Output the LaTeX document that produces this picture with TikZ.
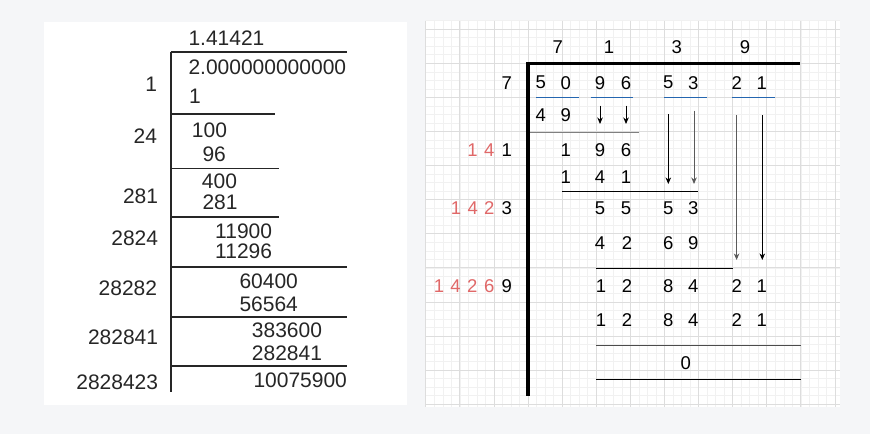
\documentclass[tikz,border=0pt]{standalone}
\usepackage{fontspec}
\setmainfont{Liberation Sans}
\usetikzlibrary{arrows.meta}
\definecolor{bg}{HTML}{F5F6F8}
\definecolor{ink}{HTML}{262626}
\definecolor{redd}{HTML}{E06868}
\definecolor{blueline}{HTML}{2466B0}
\definecolor{gminor}{HTML}{F1F1F1}
\definecolor{gmajor}{HTML}{DDDDDD}
\definecolor{grayline}{HTML}{808080}
\tikzset{
  ltxt/.style={font=\fontsize{21}{25}\selectfont, text=ink, inner sep=0pt},
  rtxt/.style={font=\fontsize{18.5}{22}\selectfont, text=black, inner sep=0pt},
  rred/.style={rtxt, text=redd},
  lline/.style={draw=ink, line width=1.6pt},
  rline/.style={draw=black, line width=1pt},
  gline/.style={draw=grayline, line width=1.2pt},
  uline/.style={draw=blueline, line width=1.6pt},
  darrow/.style={draw=black, line width=1pt, -{Stealth[length=6.5pt,width=5.5pt,inset=2pt]}},
  garrow/.style={draw=grayline!70!black, line width=1pt, -{Stealth[length=6.5pt,width=5.5pt,inset=2pt]}},
}
\begin{document}
\begin{tikzpicture}[x=1pt,y=-1pt]
\useasboundingbox (0,0) rectangle (870,434);
\fill[bg] (0,0) rectangle (870,434);
% left panel
\fill[white] (44.3,22.3) rectangle (406.7,405);
% right panel with grid
\fill[white] (425.7,20.7) rectangle (840,406.7);
\foreach \i in {0,...,48} {\draw[gminor, line width=0.5pt] ({425.7+8.525*\i},20.7) -- ({425.7+8.525*\i},406.7);}
\foreach \j in {0,...,45} {\draw[gminor, line width=0.5pt] (425.7,{20.6+8.525*\j}) -- (840,{20.6+8.525*\j});}
\foreach \i in {0,...,12} {\draw[gmajor, line width=0.7pt] ({425.7+34.1*\i},20.7) -- ({425.7+34.1*\i},406.7);}
\foreach \j in {0,...,11} {\draw[gmajor, line width=0.7pt] (425.7,{29.1+34.1*\j}) -- (840,{29.1+34.1*\j});}

% ---------- left panel ----------
\coordinate (vt) at (170.7,51.7);
\coordinate (vb) at (170.7,391.7);
\draw[lline] (vt) -- (vb);
\coordinate (h0e) at (347.3,51.7);
\draw[lline] (vt) -- (h0e);
\coordinate (h1s) at (170.7,113.7); \coordinate (h1e) at (275,113.7);
\coordinate (h2s) at (170.7,168.3); \coordinate (h2e) at (279,168.3);
\coordinate (h3s) at (170.7,216.7); \coordinate (h3e) at (279.3,216.7);
\coordinate (h4s) at (170.7,266.7); \coordinate (h4e) at (346.7,266.7);
\coordinate (h5s) at (170.7,316.7); \coordinate (h5e) at (346.7,316.7);
\coordinate (h6s) at (170.7,365.7); \coordinate (h6e) at (346.7,365.7);
\foreach \k in {1,...,6} {\draw[lline] (h\k s) -- (h\k e);}

\node[ltxt,anchor=west] (q)  at (188.3,38.3) {1.41421};
\node[ltxt,anchor=west] (n0) at (188.3,67.3) {2.000000000000};
\node[ltxt,anchor=east] (d1) at (157.3,84) {1};
\node[ltxt,anchor=west] (s1) at (189,96.7) {1};
\node[ltxt,anchor=east] (d2) at (157.3,135.7) {24};
\node[ltxt,anchor=west] (r2) at (191.7,130) {100};
\node[ltxt,anchor=west] (s2) at (202.3,154.3) {96};
\node[ltxt,anchor=east] (d3) at (158.3,196) {281};
\node[ltxt,anchor=west] (r3) at (201.7,181.7) {400};
\node[ltxt,anchor=west] (s3) at (202.3,202.3) {281};
\node[ltxt,anchor=east] (d4) at (158.3,238.3) {2824};
\node[ltxt,anchor=west] (r4) at (215,231.7) {11900};
\node[ltxt,anchor=west] (s4) at (215,251.7) {11296};
\node[ltxt,anchor=east] (d5) at (157.3,288.3) {28282};
\node[ltxt,anchor=west] (r5) at (239.3,281) {60400};
\node[ltxt,anchor=west] (s5) at (239.3,304.3) {56564};
\node[ltxt,anchor=east] (d6) at (158.3,337.7) {282841};
\node[ltxt,anchor=west] (r6) at (251.7,330) {383600};
\node[ltxt,anchor=west] (s6) at (251.7,353.3) {282841};
\node[ltxt,anchor=east] (d7) at (158.3,382.3) {2828423};
\node[ltxt,anchor=west] (r7) at (253.3,380) {10075900};

% ---------- right panel ----------
\coordinate (tl) at (527.3,63.3);
\coordinate (tr) at (800,63.3);
\coordinate (vt2) at (528,61.8);
\coordinate (vb2) at (528,395.7);
\draw[black, line width=3pt] (tl) -- (tr);
\draw[black, line width=4pt] (vt2) -- (vb2);

% quotient
\node[rtxt] (qa) at (557.7,47.3) {7};
\node[rtxt] (qb) at (609,47.3) {1};
\node[rtxt] (qc) at (676.7,47.3) {3};
\node[rtxt] (qd) at (745,47.3) {9};

% row 1
\node[rtxt] (a0) at (506.7,82.7) {7};
\node[rtxt] (a1) at (540.7,82.7) {5};
\node[rtxt] (a2) at (565.7,82.7) {0};
\node[rtxt] (a3) at (600,82.7) {9};
\node[rtxt] (a4) at (626,82.7) {6};
\node[rtxt] (a5) at (668.3,82.7) {5};
\node[rtxt] (a6) at (693.3,82.7) {3};
\node[rtxt] (a7) at (736.7,82.7) {2};
\node[rtxt] (a8) at (761.7,82.7) {1};
% blue underlines
\coordinate (u1s) at (536,97.3);   \coordinate (u1e) at (578.7,97.3);
\coordinate (u2s) at (590.7,97.3); \coordinate (u2e) at (632.7,97.3);
\coordinate (u3s) at (664.3,97.3); \coordinate (u3e) at (706.7,97.3);
\coordinate (u4s) at (732.3,97.3); \coordinate (u4e) at (775,97.3);
\foreach \k in {1,...,4} {\draw[uline] (u\k s) -- (u\k e);}

% row 2
\node[rtxt] (b1) at (540.7,115) {4};
\node[rtxt] (b2) at (565.7,115) {9};
\coordinate (sa1) at (600,105.7); \coordinate (sa2) at (600,124);
\coordinate (sb1) at (626,105.7); \coordinate (sb2) at (626,124);
\draw[darrow] (sa1) -- (sa2);
\draw[darrow] (sb1) -- (sb2);
\coordinate (la1) at (668.3,114); \coordinate (la2) at (668.3,184);
\coordinate (lb1) at (694,110.7); \coordinate (lb2) at (694,184);
\draw[darrow] (la1) -- (la2);
\draw[garrow] (lb1) -- (lb2);
\coordinate (lc1) at (736.6,115); \coordinate (lc2) at (736.6,260);
\coordinate (ld1) at (762.3,115); \coordinate (ld2) at (762.3,260);
\draw[garrow] (lc1) -- (lc2);
\draw[darrow] (ld1) -- (ld2);
\coordinate (g1s) at (530,132.3); \coordinate (g1e) at (639,132.3);
\draw[gline] (g1s) -- (g1e);

% row 3
\node[rred] (c1) at (472.5,150) {1};
\node[rred] (c2) at (489.3,150) {4};
\node[rtxt] (c3) at (506.7,150) {1};
\node[rtxt] (c4) at (565.7,150) {1};
\node[rtxt] (c5) at (600,150) {9};
\node[rtxt] (c6) at (626,150) {6};
% row 4
\node[rtxt] (e1) at (565.7,176.7) {1};
\node[rtxt] (e2) at (600,176.7) {4};
\node[rtxt] (e3) at (626,176.7) {1};
\coordinate (k1s) at (562.3,191); \coordinate (k1e) at (698.3,191);
\draw[rline] (k1s) -- (k1e);

% row 5
\node[rred] (f1) at (456,208.3) {1};
\node[rred] (f2) at (472.7,208.3) {4};
\node[rred] (f3) at (489.3,208.3) {2};
\node[rtxt] (f4) at (506.7,208.3) {3};
\node[rtxt] (f5) at (600,208.3) {5};
\node[rtxt] (f6) at (626,208.3) {5};
\node[rtxt] (f7) at (668.3,208.3) {5};
\node[rtxt] (f8) at (693.3,208.3) {3};
% row 6
\node[rtxt] (g1) at (600,243.3) {4};
\node[rtxt] (g2) at (627,243.3) {2};
\node[rtxt] (g3) at (668.3,243.3) {6};
\node[rtxt] (g4) at (693.3,243.3) {9};
\coordinate (k2s) at (596,268.3); \coordinate (k2e) at (732.7,268.3);
\draw[rline] (k2s) -- (k2e);

% row 7
\node[rred] (m1) at (439,286) {1};
\node[rred] (m2) at (455.5,286) {4};
\node[rred] (m3) at (472.3,286) {2};
\node[rred] (m4) at (489.3,286) {6};
\node[rtxt] (m5) at (506.7,286) {9};
\node[rtxt] (m6) at (601,286) {1};
\node[rtxt] (m7) at (627,286) {2};
\node[rtxt] (m8) at (668.3,286) {8};
\node[rtxt] (m9) at (693.3,286) {4};
\node[rtxt] (m10) at (736.7,286) {2};
\node[rtxt] (m11) at (761.7,286) {1};
% row 8
\node[rtxt] (p6) at (601,320) {1};
\node[rtxt] (p7) at (627,320) {2};
\node[rtxt] (p8) at (668.3,320) {8};
\node[rtxt] (p9) at (693.3,320) {4};
\node[rtxt] (p10) at (736.7,320) {2};
\node[rtxt] (p11) at (761.7,320) {1};
\coordinate (k3s) at (596,345); \coordinate (k3e) at (800.7,345);
\draw[draw=black!70, line width=1pt] (k3s) -- (k3e);
\node[rtxt] (z) at (685.7,362.7) {0};
\coordinate (k4s) at (596,379.3); \coordinate (k4e) at (800.7,379.3);
\draw[rline] (k4s) -- (k4e);
\end{tikzpicture}
\end{document}
